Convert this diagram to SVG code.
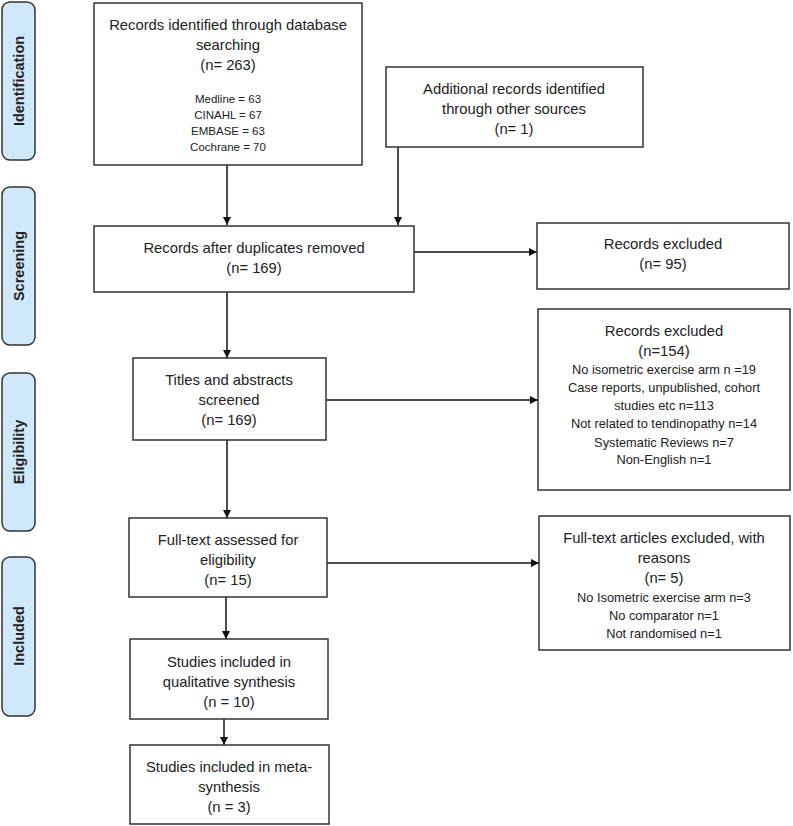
<svg xmlns="http://www.w3.org/2000/svg" width="793" height="826" viewBox="0 0 793 826">
<defs>
<style>
.box{fill:#fff;stroke:#333;stroke-width:1.5}
.phase{fill:#cfe8fa;stroke:#333;stroke-width:1.5}
.t{font-family:"Liberation Sans",Arial,sans-serif;font-size:14.8px;fill:#222;text-anchor:middle}
.s{font-family:"Liberation Sans",Arial,sans-serif;font-size:11.5px;fill:#222;text-anchor:middle}
.m{font-family:"Liberation Sans",Arial,sans-serif;font-size:12.8px;fill:#222;text-anchor:middle}
.p{font-family:"Liberation Sans",Arial,sans-serif;font-size:14.5px;font-weight:bold;fill:#222;text-anchor:middle}
.c{stroke:#111;stroke-width:1.5;fill:none;marker-end:url(#ah)}
</style>
<marker id="ah" viewBox="0 0 10 10" refX="10" refY="5" markerWidth="8" markerHeight="8" markerUnits="userSpaceOnUse" orient="auto">
<path d="M0,0 L10,5 L0,10 z" fill="#111"/>
</marker>
</defs>
<rect width="793" height="826" fill="#fff"/>

<g id="phase-identification"><rect class="phase" x="2" y="2" width="33" height="158" rx="8"/><text class="p" transform="translate(24,81) rotate(-90)">Identification</text></g>
<g id="phase-screening"><rect class="phase" x="2" y="187" width="33" height="158" rx="8"/><text class="p" transform="translate(24,266) rotate(-90)">Screening</text></g>
<g id="phase-eligibility"><rect class="phase" x="2" y="373" width="33" height="158" rx="8"/><text class="p" transform="translate(24,452) rotate(-90)">Eligibility</text></g>
<g id="phase-included"><rect class="phase" x="2" y="557" width="33" height="159" rx="8"/><text class="p" transform="translate(24,636) rotate(-90)">Included</text></g>

<g id="connectors">
<line class="c" x1="227" y1="165" x2="227" y2="225"/>
<line class="c" x1="398" y1="147" x2="398" y2="225"/>
<line class="c" x1="414" y1="252" x2="537" y2="252"/>
<line class="c" x1="227" y1="292" x2="227" y2="358"/>
<line class="c" x1="326" y1="400" x2="538" y2="400"/>
<line class="c" x1="227" y1="440" x2="227" y2="518"/>
<line class="c" x1="327" y1="563" x2="539" y2="563"/>
<line class="c" x1="226" y1="597" x2="226" y2="639"/>
<line class="c" x1="224" y1="719" x2="224" y2="745"/>
</g>

<g id="n-db">
<rect class="box" x="94" y="3" width="268" height="162"/>
<text class="t" x="228" y="30">Records identified through database</text>
<text class="t" x="228" y="50">searching</text>
<text class="t" x="228" y="70">(n= 263)</text>
<text class="s" x="228" y="103">Medline = 63</text>
<text class="s" x="228" y="119">CINAHL = 67</text>
<text class="s" x="228" y="135">EMBASE = 63</text>
<text class="s" x="228" y="151">Cochrane = 70</text>
</g>

<g id="n-other">
<rect class="box" x="386" y="67" width="257" height="80"/>
<text class="t" x="514" y="94">Additional records identified</text>
<text class="t" x="514" y="114">through other sources</text>
<text class="t" x="514" y="134">(n= 1)</text>
</g>

<g id="n-dup">
<rect class="box" x="94" y="226" width="320" height="66"/>
<text class="t" x="254" y="253">Records after duplicates removed</text>
<text class="t" x="254" y="273">(n= 169)</text>
</g>

<g id="n-excl95">
<rect class="box" x="537" y="223" width="252" height="66"/>
<text class="t" x="663" y="249">Records excluded</text>
<text class="t" x="663" y="269">(n= 95)</text>
</g>

<g id="n-titles">
<rect class="box" x="133" y="358" width="193" height="82"/>
<text class="t" x="229" y="385">Titles and abstracts</text>
<text class="t" x="229" y="405">screened</text>
<text class="t" x="229" y="425">(n= 169)</text>
</g>

<g id="n-excl154">
<rect class="box" x="538" y="309" width="252" height="181"/>
<text class="t" x="664" y="336">Records excluded</text>
<text class="t" x="664" y="356">(n=154)</text>
<text class="m" x="664" y="374">No isometric exercise arm n =19</text>
<text class="m" x="664" y="392">Case reports, unpublished, cohort</text>
<text class="m" x="664" y="410">studies etc n=113</text>
<text class="m" x="664" y="428">Not related to tendinopathy n=14</text>
<text class="m" x="664" y="447">Systematic Reviews n=7</text>
<text class="m" x="664" y="464">Non-English n=1</text>
</g>

<g id="n-fulltext">
<rect class="box" x="129" y="518" width="198" height="79"/>
<text class="t" x="228" y="545">Full-text assessed for</text>
<text class="t" x="228" y="565">eligibility</text>
<text class="t" x="228" y="585">(n= 15)</text>
</g>

<g id="n-excl5">
<rect class="box" x="539" y="516" width="251" height="134"/>
<text class="t" x="664" y="543">Full-text articles excluded, with</text>
<text class="t" x="664" y="563">reasons</text>
<text class="t" x="664" y="583">(n= 5)</text>
<text class="m" x="664" y="602">No Isometric exercise arm n=3</text>
<text class="m" x="664" y="620">No comparator n=1</text>
<text class="m" x="664" y="638">Not randomised n=1</text>
</g>

<g id="n-qual">
<rect class="box" x="130" y="639" width="198" height="80"/>
<text class="t" x="229" y="667">Studies included in</text>
<text class="t" x="229" y="687">qualitative synthesis</text>
<text class="t" x="229" y="707">(n = 10)</text>
</g>

<g id="n-meta">
<rect class="box" x="130" y="745" width="199" height="79"/>
<text class="t" x="229" y="772">Studies included in meta-</text>
<text class="t" x="229" y="792">synthesis</text>
<text class="t" x="229" y="812">(n = 3)</text>
</g>
</svg>
